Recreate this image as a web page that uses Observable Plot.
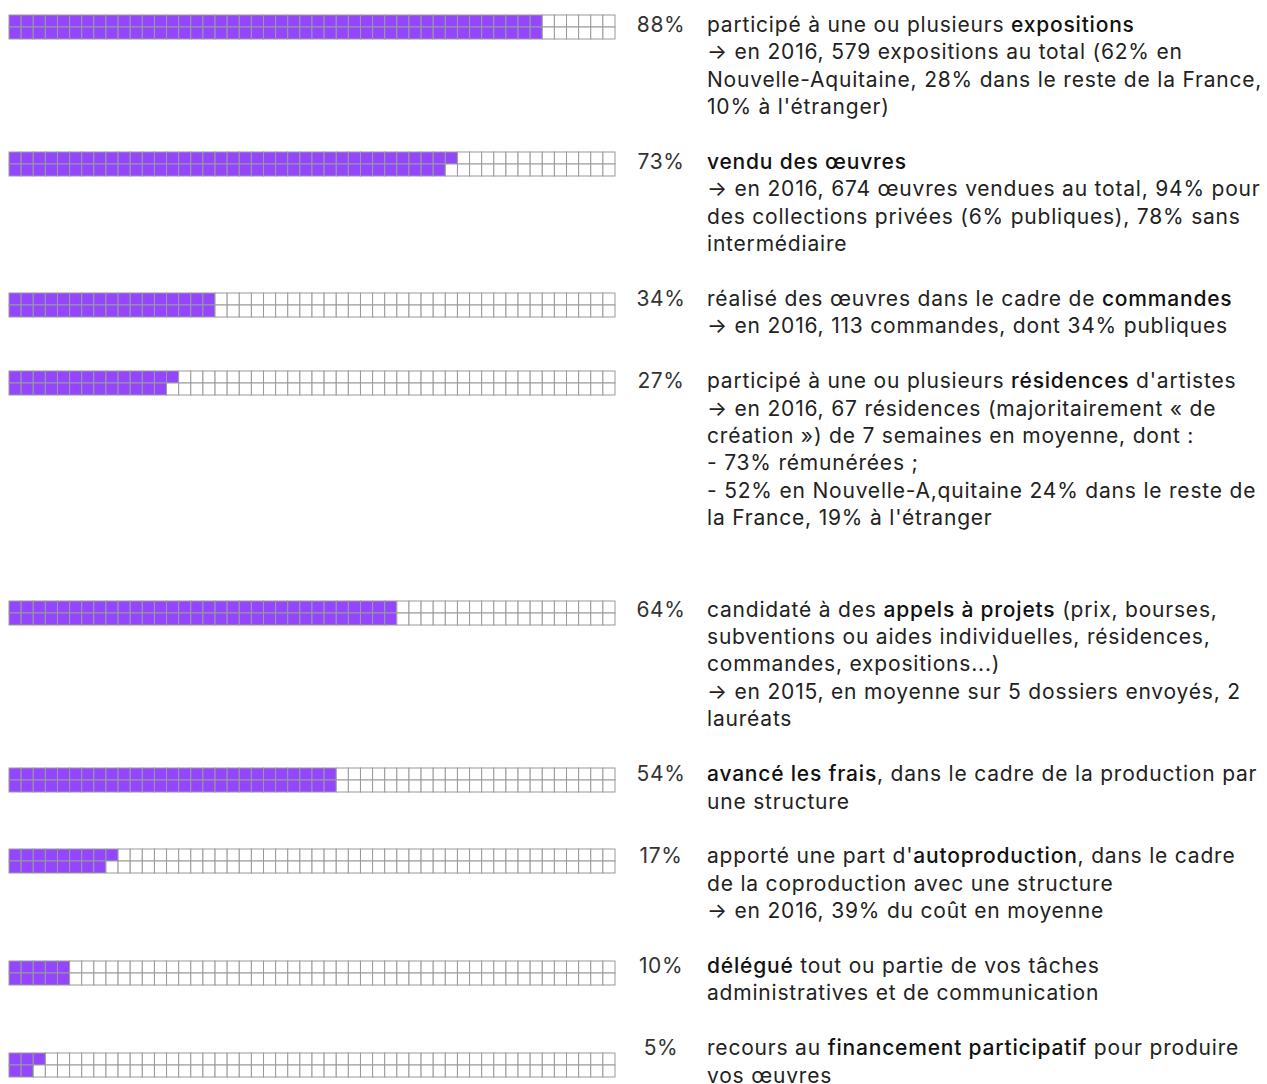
<!DOCTYPE html>
<html>
<head>
<meta charset="utf-8">
<script src="https://cdn.jsdelivr.net/npm/d3@7"></script>
<script src="https://cdn.jsdelivr.net/npm/@observablehq/plot@0.6"></script>
<style>
  html, body { margin: 0; padding: 0; background: #fff; }
  body { width: 1267px; height: 1084px; overflow: hidden; font-family: Inter, Roboto, "Noto Sans", sans-serif; color: #222; }
  #chart { padding-top: 11px; }
  .row { display: flex; align-items: flex-start; margin-bottom: 27.4px; }
  .row.extra { margin-bottom: 64px; }
  .waffle { width: 620px; flex: none; padding-top: 3px; }
  .row:nth-child(3) .waffle, .row:nth-child(6) .waffle { padding-top: 7px; }
  .row:nth-child(5) .waffle { padding-top: 4px; }
  .row:nth-child(7) .waffle { padding-top: 6px; }
  .row:nth-child(8) .waffle { padding-top: 8px; }
  .row:nth-child(9) .waffle { padding-top: 18px; }
  .waffle svg { display: block; }
  .pct { width: 82px; flex: none; text-align: center; font-size: 21px; line-height: 27.4px; color: #333; letter-spacing: 0.6px; }
  .desc { padding-left: 5px; font-size: 21px; line-height: 27.4px; white-space: nowrap; letter-spacing: 0.8px; }
  .desc b { font-weight: 500; color: #111; }
</style>
</head>
<body>
<div id="chart"></div>
<script>
const percents = [88, 73, 34, 27, 64, 54, 17, 10, 5];
const descriptions = [
  ["participé à une ou plusieurs **expositions**", "→ en 2016, 579 expositions au total (62% en", "Nouvelle-Aquitaine, 28% dans le reste de la France,", "10% à l'étranger)"],
  ["**vendu des œuvres**", "→ en 2016, 674 œuvres vendues au total, 94% pour", "des collections privées (6% publiques), 78% sans", "intermédiaire"],
  ["réalisé des œuvres dans le cadre de **commandes**", "→ en 2016, 113 commandes, dont 34% publiques"],
  ["participé à une ou plusieurs **résidences** d'artistes", "→ en 2016, 67 résidences (majoritairement « de", "création ») de 7 semaines en moyenne, dont :", "- 73% rémunérées ;", "- 52% en Nouvelle-A,quitaine 24% dans le reste de", "la France, 19% à l'étranger"],
  ["candidaté à des **appels à projets** (prix, bourses,", "subventions ou aides individuelles, résidences,", "commandes, expositions...)", "→ en 2015, en moyenne sur 5 dossiers envoyés, 2", "lauréats"],
  ["**avancé les frais**, dans le cadre de la production par", "une structure"],
  ["apporté une part d'**autoproduction**, dans le cadre", "de la coproduction avec une structure", "→ en 2016, 39% du coût en moyenne"],
  ["**délégué** tout ou partie de vos tâches", "administratives et de communication"],
  ["recours au **financement participatif** pour produire", "vos œuvres"]
];
const columns = d3.range(50);
const rowsPerColumn = [0, 1];

const chart = document.getElementById("chart");
const esc = s => s.replace(/&/g, "&amp;").replace(/</g, "&lt;").replace(/>/g, "&gt;");
const markup = line => esc(line).replace(/\*\*(.+?)\*\*/g, "<b>$1</b>");

percents.forEach((p, k) => {
  const cells = d3.range(columns.length * rowsPerColumn.length).map(i => ({
    col: Math.floor(i / rowsPerColumn.length),
    row: i % rowsPerColumn.length,
    state: i < p ? "on" : "off"
  }));
  const row = document.createElement("div");
  row.className = "row" + (k === 3 ? " extra" : "");
  const w = document.createElement("div");
  w.className = "waffle";
  w.appendChild(Plot.plot({
    width: 620,
    height: 26,
    marginLeft: 9,
    marginRight: 5,
    marginTop: 1,
    marginBottom: 1,
    x: {domain: columns, padding: 0, round: false, axis: null},
    y: {domain: rowsPerColumn, padding: 0, round: false, axis: null},
    color: {domain: ["on", "off"], range: ["#9446ff", "#ffffff"]},
    style: {overflow: "visible", background: "transparent"},
    marks: [
      Plot.cell(cells, {x: "col", y: "row", fill: "state", stroke: "#9a9a9a", strokeWidth: 1, inset: 0})
    ]
  }));
  const pc = document.createElement("div");
  pc.className = "pct";
  pc.textContent = p + "%";
  const d = document.createElement("div");
  d.className = "desc";
  d.innerHTML = descriptions[k].map(markup).join("<br>");
  row.append(w, pc, d);
  chart.appendChild(row);
});
</script>
</body>
</html>
